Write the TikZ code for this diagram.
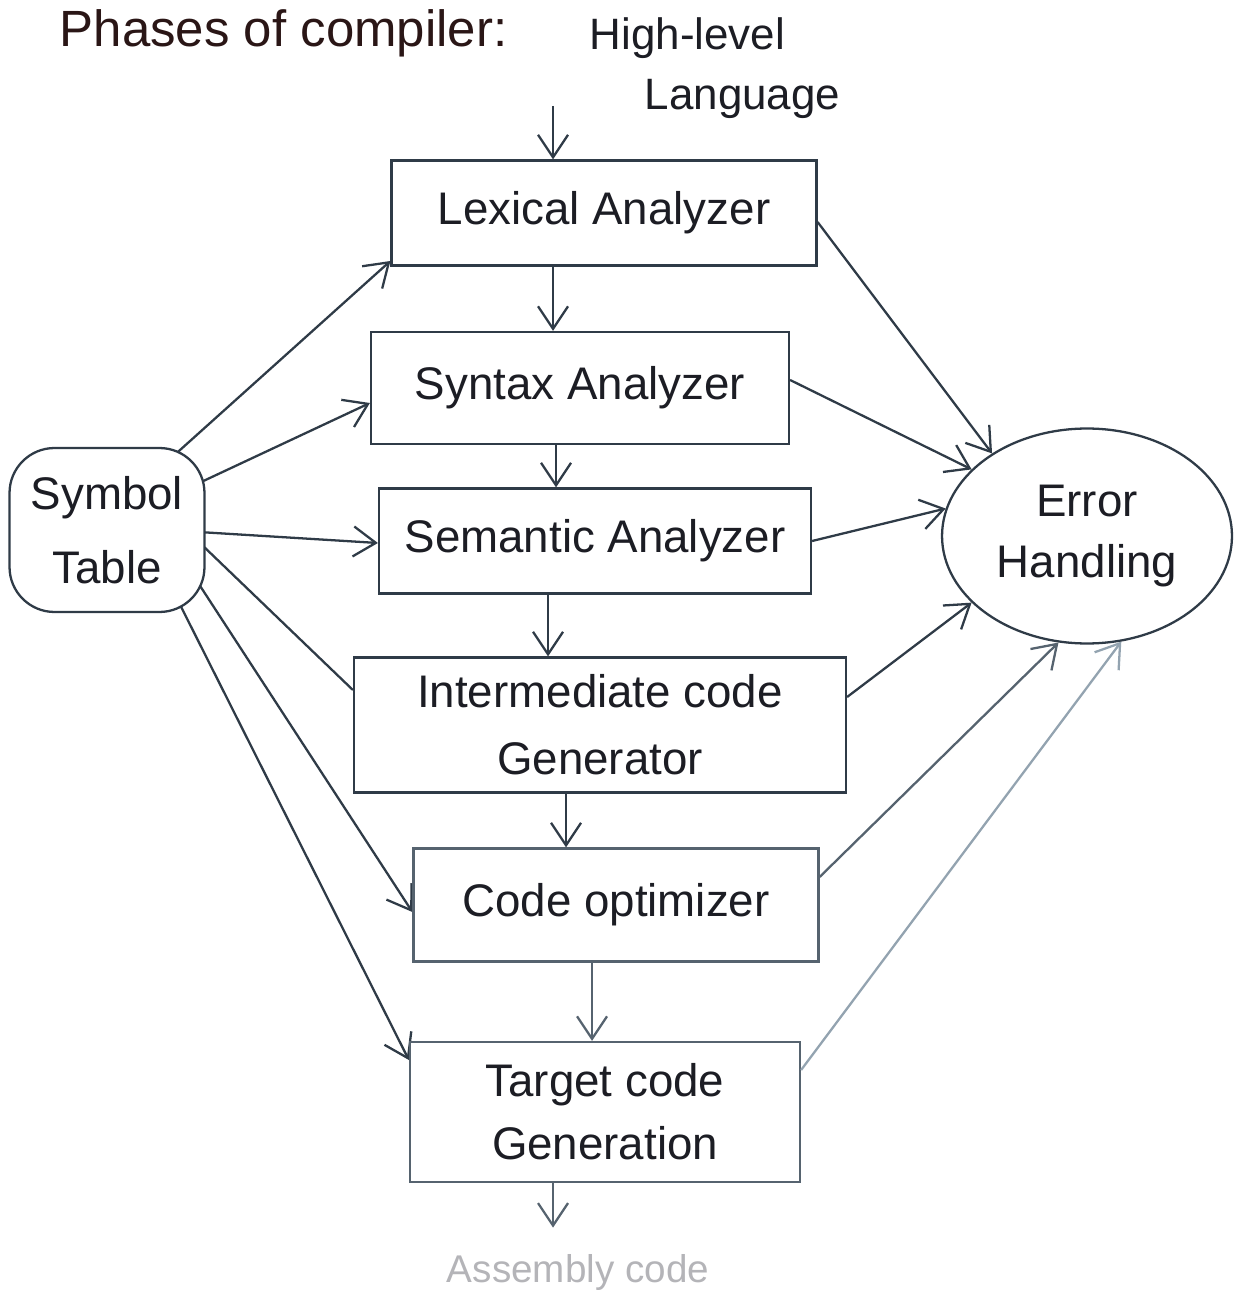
\documentclass[tikz,border=0pt]{standalone}
\usepackage{fontspec}
\setmainfont{Liberation Sans}
\usetikzlibrary{arrows.meta,shapes.geometric,calc}
\pgfdeclarelayer{bg}
\pgfsetlayers{bg,main}
\definecolor{ink}{HTML}{2F3B47}
\definecolor{inkmid}{HTML}{56636F}
\definecolor{inklight}{HTML}{93A3B0}
\definecolor{txt}{HTML}{1C1D24}
\definecolor{titletxt}{HTML}{2A1616}
\definecolor{faint}{HTML}{B4B4B8}
\tikzset{
  box/.style={draw=ink, line width=1.3pt, rectangle, inner sep=4pt, align=center,
    text=txt, font=\fontsize{26}{38}\selectfont},
  blobnode/.style={draw=ink, line width=1.3pt, fill=white, align=center, inner sep=0pt,
    text=txt, font=\fontsize{26}{40}\selectfont},
  arr/.style={draw=ink, line width=1.3pt, -{Straight Barb[length=4.5mm,width=6mm]}},
  plainline/.style={draw=ink, line width=1.3pt},
  label/.style={text=txt, font=\fontsize{25}{34}\selectfont, inner sep=2pt}
}
\begin{document}
\begin{tikzpicture}[x=0.02cm,y=-0.02cm]
\useasboundingbox (0,0) rectangle (1234,1310);

% texts
\node[label, text=titletxt, font=\fontsize{29}{34}\selectfont, anchor=west] (title) at (56,33) {Phases of compiler:};
\node[label, anchor=west, align=left] (hll) at (586,68) {High-level\\\hspace*{1.1cm}Language};
\coordinate (hlltail) at (553,106);

% phase boxes
\node[box, minimum width=8.5cm, minimum height=2.1cm] (lex) at (604,213) {Lexical Analyzer};
\node[box, minimum width=8.36cm, minimum height=2.24cm] (syn) at (580,388) {Syntax Analyzer};
\node[box, minimum width=8.64cm, minimum height=2.1cm] (sem) at (595,541) {Semantic Analyzer};
\node[box, minimum width=9.84cm, minimum height=2.7cm] (int) at (600,725) {Intermediate code\\Generator};
\node[box, draw=inkmid, minimum width=8.1cm, minimum height=2.26cm] (opt) at (616,905) {Code optimizer};
\node[box, draw=inkmid, font=\fontsize{26}{36}\selectfont, minimum width=7.8cm, minimum height=2.8cm] (tgt) at (605,1112) {Target code\\Generation};
\node[label, text=faint, font=\fontsize{22}{28}\selectfont] (asm) at (578,1272) {Assembly code};

% side blobs
\node[blobnode, rectangle, rounded corners=0.9cm, minimum width=3.9cm, minimum height=3.28cm,
      font=\fontsize{26}{42}\selectfont] (sym) at (107,530) {Symbol\\Table};
\node[blobnode, ellipse, minimum width=5.8cm, minimum height=4.3cm,
      font=\fontsize{26}{35}\selectfont] (err) at (1087,536) {Error\\Handling};

% main flow
\coordinate (v0) at (553,0);
\coordinate (v1) at (553,0);
\coordinate (v2) at (556,0);
\coordinate (v3) at (548,0);
\coordinate (v4) at (566,0);
\coordinate (v5) at (592,0);
\coordinate (v6) at (553,0);
\draw[arr] (hlltail) -- (lex.north -| v0);
\draw[arr] (lex.south -| v1) -- (syn.north -| v1);
\draw[arr] (syn.south -| v2) -- (sem.north -| v2);
\draw[arr] (sem.south -| v3) -- (int.north -| v3);
\draw[arr] (int.south -| v4) -- (opt.north -| v4);
\draw[arr, draw=inkmid] (opt.south -| v5) -- (tgt.north -| v5);
\draw[arr, draw=inkmid, shorten >=0.45cm] (tgt.south -| v6) -- (asm.north -| v6);

% symbol table links (behind the blob)
\begin{pgfonlayer}{bg}
\draw[arr] ([shift={(43,-53)}]sym.center) -- ([shift={(0,48)}]lex.west);
\draw[arr] ([shift={(43,-24)}]sym.center) -- ([shift={(0,15)}]syn.west);
\draw[arr] ([shift={(43,-1)}]sym.center) -- ([shift={(0,2)}]sem.west);
\draw[plainline] ([shift={(43,-35)}]sym.center) -- ([shift={(0,-35)}]int.west);
\draw[arr] ([shift={(43,-21)}]sym.center) -- ([shift={(0,7)}]opt.west);
\draw[arr] ([shift={(43,15)}]sym.center) -- ([shift={(0,-52)}]tgt.west);
\end{pgfonlayer}

% error handling links
\draw[arr] ([shift={(0,9)}]lex.east) -- (err.139);
\draw[arr] ([shift={(0,-8)}]syn.east) -- (err.150);
\draw[arr] (sem.east) -- (err.169);
\draw[arr] ([shift={(0,-28)}]int.east) -- (err.210);
\draw[arr, draw=inkmid] ([shift={(0,-28)}]opt.east) -- (err.255);
\draw[arr, draw=inklight] ([shift={(0,-42)}]tgt.east) -- (err.288);
\end{tikzpicture}
\end{document}
